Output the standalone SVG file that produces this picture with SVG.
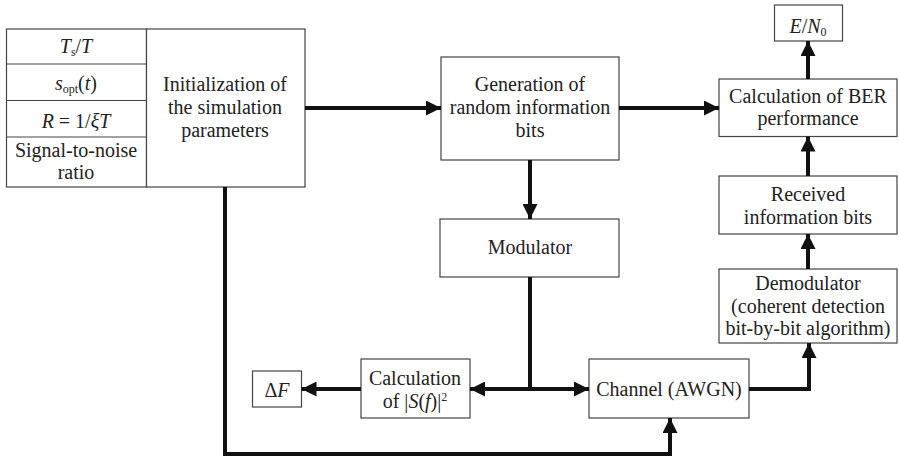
<svg xmlns="http://www.w3.org/2000/svg" width="899" height="459" viewBox="0 0 899 459">
<style>
.box{fill:#fff;stroke:#444;stroke-width:1.2}
.wire{fill:none;stroke:#111;stroke-width:4}
</style>
<defs>
<marker id="ah" viewBox="0 0 10 10" refX="10" refY="5" markerWidth="3.75" markerHeight="3.75" orient="auto" markerUnits="strokeWidth">
<path d="M0,0 L10,5 L0,10 z" fill="#111"/>
</marker>
</defs>
<rect width="899" height="459" fill="#fff"/>
<g id="params">
<rect class="box" x="6.5" y="29" width="140" height="158"/>
<line class="box" x1="6.5" y1="64" x2="146.5" y2="64"/>
<line class="box" x1="6.5" y1="100.5" x2="146.5" y2="100.5"/>
<line class="box" x1="6.5" y1="137" x2="146.5" y2="137"/>
<text font-family="Liberation Serif" font-size="20" text-anchor="middle" fill="#222" x="76" y="53"><tspan font-style="italic">T</tspan><tspan font-size="12" dy="3">s</tspan><tspan dy="-3">/</tspan><tspan font-style="italic">T</tspan></text>
<text font-family="Liberation Serif" font-size="20" text-anchor="middle" fill="#222" x="76" y="90"><tspan font-style="italic">s</tspan><tspan font-size="12" dy="3">opt</tspan><tspan dy="-3">(</tspan><tspan font-style="italic">t</tspan>)</text>
<text font-family="Liberation Serif" font-size="20" text-anchor="middle" fill="#222" x="76" y="128"><tspan font-style="italic">R</tspan> = 1/<tspan font-style="italic">ξT</tspan></text>
<text font-family="Liberation Serif" font-size="20" text-anchor="middle" fill="#222" x="76" y="157">Signal-to-noise</text>
<text font-family="Liberation Serif" font-size="20" text-anchor="middle" fill="#222" x="76" y="179">ratio</text>
</g>
<g id="init">
<rect class="box" x="146.5" y="29" width="158.5" height="158"/>
<text font-family="Liberation Serif" font-size="20" text-anchor="middle" fill="#222" x="225" y="91">Initialization of</text>
<text font-family="Liberation Serif" font-size="20" text-anchor="middle" fill="#222" x="225" y="114">the simulation</text>
<text font-family="Liberation Serif" font-size="20" text-anchor="middle" fill="#222" x="225" y="137">parameters</text>
</g>
<g id="gen">
<rect class="box" x="441" y="57" width="178" height="103"/>
<text font-family="Liberation Serif" font-size="20" text-anchor="middle" fill="#222" x="530" y="91">Generation of</text>
<text font-family="Liberation Serif" font-size="20" text-anchor="middle" fill="#222" x="530" y="114">random information</text>
<text font-family="Liberation Serif" font-size="20" text-anchor="middle" fill="#222" x="530" y="137">bits</text>
</g>
<g id="mod">
<rect class="box" x="440" y="219" width="179" height="58"/>
<text font-family="Liberation Serif" font-size="20" text-anchor="middle" fill="#222" x="530" y="254">Modulator</text>
</g>
<g id="ber">
<rect class="box" x="719" y="79" width="178" height="57.5"/>
<text font-family="Liberation Serif" font-size="20" text-anchor="middle" fill="#222" x="808" y="103">Calculation of BER</text>
<text font-family="Liberation Serif" font-size="20" text-anchor="middle" fill="#222" x="808" y="125">performance</text>
</g>
<g id="ebn0">
<rect class="box" x="774.5" y="5" width="68" height="36"/>
<text font-family="Liberation Serif" font-size="20" text-anchor="middle" fill="#222" x="808" y="33"><tspan font-style="italic">E</tspan>/<tspan font-style="italic">N</tspan><tspan font-size="12" dy="3">0</tspan></text>
</g>
<g id="recv">
<rect class="box" x="719" y="176" width="178" height="58"/>
<text font-family="Liberation Serif" font-size="20" text-anchor="middle" fill="#222" x="808" y="201">Received</text>
<text font-family="Liberation Serif" font-size="20" text-anchor="middle" fill="#222" x="808" y="224">information bits</text>
</g>
<g id="demod">
<rect class="box" x="719" y="269" width="178" height="74"/>
<text font-family="Liberation Serif" font-size="20" text-anchor="middle" fill="#222" x="808" y="290">Demodulator</text>
<text font-family="Liberation Serif" font-size="20" text-anchor="middle" fill="#222" x="808" y="313">(coherent detection</text>
<text font-family="Liberation Serif" font-size="20" text-anchor="middle" fill="#222" x="808" y="335">bit-by-bit algorithm)</text>
</g>
<g id="channel">
<rect class="box" x="589" y="359" width="160" height="59"/>
<text font-family="Liberation Serif" font-size="20" text-anchor="middle" fill="#222" x="669" y="396">Channel (AWGN)</text>
</g>
<g id="spec">
<rect class="box" x="361" y="359" width="109" height="59"/>
<text font-family="Liberation Serif" font-size="20" text-anchor="middle" fill="#222" x="415" y="385">Calculation</text>
<text font-family="Liberation Serif" font-size="20" text-anchor="middle" fill="#222" x="415" y="408">of |<tspan font-style="italic">S</tspan>(<tspan font-style="italic">f</tspan>)|<tspan font-size="12" dy="-7">2</tspan></text>
</g>
<g id="deltaf">
<rect class="box" x="252.5" y="371" width="49" height="36"/>
<text font-family="Liberation Serif" font-size="20" text-anchor="middle" fill="#222" x="277" y="397">Δ<tspan font-style="italic">F</tspan></text>
</g>
<g id="connectors">
<path class="wire" d="M305,108 L441,108" marker-end="url(#ah)"/>
<path class="wire" d="M619,108 L719,108" marker-end="url(#ah)"/>
<path class="wire" d="M808,79 L808,41" marker-end="url(#ah)"/>
<path class="wire" d="M808,176 L808,136.5" marker-end="url(#ah)"/>
<path class="wire" d="M808,269 L808,234" marker-end="url(#ah)"/>
<path class="wire" d="M530,160 L530,219" marker-end="url(#ah)"/>
<path class="wire" d="M530,277 L530,389"/>
<path class="wire" d="M530,389 L589,389" marker-end="url(#ah)"/>
<path class="wire" d="M530,389 L470,389" marker-end="url(#ah)"/>
<path class="wire" d="M361,389 L301.5,389" marker-end="url(#ah)"/>
<path class="wire" d="M749,389 L809,389 L809,343" marker-end="url(#ah)"/>
<path class="wire" d="M225,187 L225,454 L670,454 L670,418" marker-end="url(#ah)"/>
</g>
</svg>
